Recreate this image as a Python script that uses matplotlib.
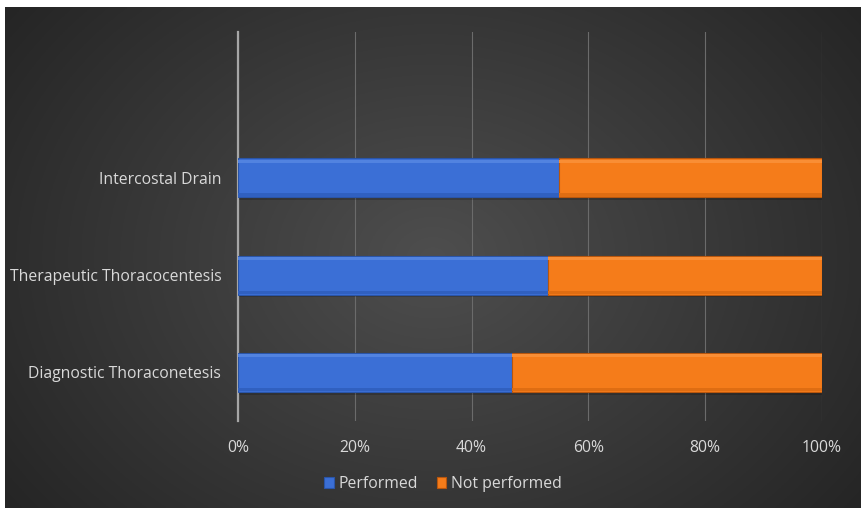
import numpy as np
import matplotlib
matplotlib.use("Agg")
import matplotlib.pyplot as plt
from matplotlib.ticker import FuncFormatter

categories = ["Diagnostic Thoraconetesis", "Therapeutic Thoracocentesis", "Intercostal Drain"]
performed = [47, 53, 55]
not_performed = [53, 47, 45]
series_names = ["Performed", "Not performed"]
xticks = [0, 20, 40, 60, 80, 100]

plt.rcParams['font.family'] = ['Open Sans', 'DejaVu Sans']

W, H = 866, 511
fig = plt.figure(figsize=(W / 100, H / 100), dpi=100)
fig.patch.set_facecolor('white')

# background with radial gradient
bg = fig.add_axes([5 / W, 1 - 508 / H, 856 / W, 501 / H])
yy, xx = np.mgrid[-1:1:300j, -1:1:500j]
r = np.sqrt(xx ** 2 + (yy * 0.75) ** 2)
r = np.clip(r / 1.25, 0, 1)
c0, c1 = 0x4e / 255, 0x25 / 255
img = c0 + (c1 - c0) * r
bg.imshow(np.dstack([img, img, img]), aspect='auto', extent=[0, 1, 0, 1])
bg.set_axis_off()

# main axes
x0, x1 = 238, 822
y0, y1 = 32, 421
ax = fig.add_axes([x0 / W, 1 - y1 / H, (x1 - x0) / W, (y1 - y0) / H])
ax.patch.set_alpha(0)

ypos = np.arange(len(categories))
blue = '#3b6fd6'
orange = '#f57c1a'
h = 0.40
# soft shadow
ax.barh(ypos - 0.03, [p + n for p, n in zip(performed, not_performed)], height=h, color='black', alpha=0.18, linewidth=0, zorder=2)
ax.barh(ypos, performed, height=h, color=blue, edgecolor='#2a55a8', linewidth=0.8, zorder=3, label=series_names[0])
ax.barh(ypos, not_performed, left=performed, height=h, color=orange, edgecolor='#b8560d', linewidth=0.8, zorder=3, label=series_names[1])
# bevel highlights
ax.barh(ypos + h * 0.43, performed, height=h * 0.08, color='#5283e0', linewidth=0, zorder=4)
ax.barh(ypos + h * 0.43, not_performed, left=performed, height=h * 0.08, color='#f98e35', linewidth=0, zorder=4)
ax.barh(ypos - h * 0.44, performed, height=h * 0.08, color='#3060c0', linewidth=0, zorder=4)
ax.barh(ypos - h * 0.44, not_performed, left=performed, height=h * 0.08, color='#df6d12', linewidth=0, zorder=4)

ax.set_xlim(0, 100)
ax.set_ylim(-0.5, 3.5)
ax.set_xticks(xticks)
ax.xaxis.set_major_formatter(FuncFormatter(lambda v, p: f"{int(v)}%"))
ax.set_yticks(ypos)
ax.set_yticklabels(categories)
ax.grid(axis='x', color='#6b6b6b', linewidth=0.8, zorder=0)
for s in ['top', 'right', 'bottom']:
    ax.spines[s].set_visible(False)
ax.spines['left'].set_color('#a6a6a6')
ax.spines['left'].set_linewidth(1.6)
ax.tick_params(axis='both', length=0, colors='#d9d9d9', labelsize=11.3)
ax.tick_params(axis='x', pad=14)
ax.tick_params(axis='y', pad=12)

leg = fig.legend(handles=ax.containers[1:], labels=series_names, loc='center',
                 bbox_to_anchor=(443 / W, 1 - 484 / H), ncol=2, frameon=False,
                 fontsize=11.3, handlelength=0.6, handleheight=0.7, handletextpad=0.3,
                 columnspacing=1.2, labelcolor='#d9d9d9')

fig.savefig('out.png', dpi=100, facecolor='white')
